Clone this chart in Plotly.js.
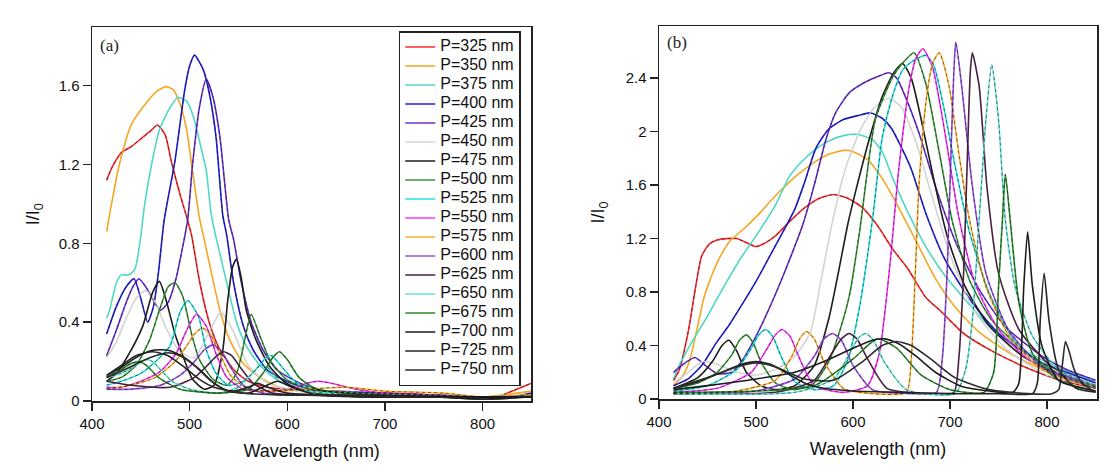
<!DOCTYPE html>
<html>
<head>
<meta charset="utf-8">
<script src="https://cdn.plot.ly/plotly-3.0.1.min.js"></script>
<style>html,body{margin:0;padding:0;background:#fff;}#chart{width:1118px;height:476px;}</style>
</head>
<body>
<div id="chart"></div>
<script>
// ---------- legend labels ----------
const periods = ['P=325 nm','P=350 nm','P=375 nm','P=400 nm','P=425 nm','P=450 nm','P=475 nm','P=500 nm','P=525 nm','P=550 nm','P=575 nm','P=600 nm','P=625 nm','P=650 nm','P=675 nm','P=700 nm','P=725 nm','P=750 nm'];

// ---------- panel (a) data : wavelength (nm) and I/I0 ----------
const a325_wl = [415,420,430,440,450,460,467,475,481,490,496,502,510,520,530,545,560,580,600,650,700,750,800,815,830,850];
const a325_I  = [1.12,1.18,1.26,1.29,1.33,1.37,1.40,1.35,1.22,1.05,0.95,0.84,0.61,0.40,0.27,0.16,0.10,0.07,0.06,0.05,0.04,0.03,0.02,0.02,0.05,0.09];
const a350_wl = [415,420,428,440,452,466,476,483,490,497,502,510,514,521,531,541,555,572,592,620,650,700,750,800,850];
const a350_I  = [0.86,1.00,1.20,1.40,1.49,1.57,1.595,1.58,1.51,1.375,1.20,0.93,0.84,0.68,0.46,0.31,0.19,0.12,0.07,0.05,0.04,0.04,0.03,0.02,0.05];
const a375_wl = [415,418,425,430,438,444,449,454,461,469,480,488,497,504,510,517,522,527,538,548,558,572,589,606,640,700,750,800,850];
const a375_I  = [0.42,0.46,0.60,0.64,0.64,0.67,0.80,1.00,1.20,1.375,1.49,1.54,1.52,1.44,1.32,1.17,0.95,0.83,0.60,0.40,0.28,0.18,0.11,0.07,0.05,0.04,0.03,0.02,0.03];
const a400_wl = [415,425,435,443,450,457,463,468,474,485,495,500,505,514,521,527,534,538,545,555,565,579,599,623,660,700,750,800,830,850];
const a400_I  = [0.34,0.48,0.58,0.62,0.52,0.40,0.48,0.65,0.92,1.22,1.58,1.70,1.755,1.68,1.54,1.34,0.94,0.84,0.60,0.38,0.26,0.16,0.10,0.06,0.04,0.04,0.03,0.02,0.02,0.04];
const a425_wl = [415,425,435,442,448,455,462,470,478,486,492,498,503,510,517,524,531,540,545,553,563,575,589,613,640,700,750,800,850];
const a425_I  = [0.23,0.36,0.50,0.58,0.62,0.58,0.52,0.46,0.50,0.62,0.76,0.92,1.20,1.49,1.633,1.54,1.34,0.92,0.82,0.60,0.40,0.26,0.16,0.09,0.05,0.04,0.03,0.02,0.03];
const a450_wl = [415,425,435,445,455,465,475,490,505,520,532,545,560,580,610,650,700,800,850];
const a450_I  = [0.22,0.30,0.42,0.52,0.56,0.50,0.38,0.25,0.22,0.35,0.45,0.35,0.18,0.09,0.05,0.04,0.03,0.02,0.03];
const a475_wl = [415,425,438,452,462,469,476,485,493,503,515,525,534,539,544,548,553,558,568,582,599,620,650,700,750,800,850];
const a475_I  = [0.10,0.14,0.24,0.38,0.55,0.607,0.51,0.34,0.23,0.11,0.06,0.08,0.26,0.51,0.68,0.72,0.62,0.46,0.31,0.175,0.09,0.05,0.03,0.02,0.02,0.01,0.02];
const a500_wl = [415,430,445,459,469,478,485,493,502,510,524,538,548,553,558,563,572,582,599,623,660,720,800,850];
const a500_I  = [0.10,0.12,0.18,0.31,0.46,0.58,0.60,0.53,0.34,0.21,0.11,0.08,0.14,0.23,0.35,0.44,0.33,0.21,0.11,0.06,0.04,0.03,0.02,0.02];
const a525_wl = [415,430,450,465,480,490,498,509,517,527,540,555,570,578,584,595,610,640,700,800,850];
const a525_I  = [0.08,0.10,0.14,0.20,0.28,0.45,0.51,0.43,0.26,0.14,0.08,0.10,0.17,0.22,0.23,0.17,0.09,0.05,0.03,0.02,0.02];
const a550_wl = [415,430,450,470,486,497,507,517,527,538,555,580,605,620,632,645,670,700,750,800,850];
const a550_I  = [0.07,0.07,0.10,0.15,0.24,0.36,0.44,0.38,0.24,0.12,0.06,0.05,0.06,0.09,0.10,0.09,0.06,0.04,0.03,0.02,0.02];
const a575_wl = [415,440,465,485,497,505,513,521,530,542,560,590,620,660,700,760,800,850];
const a575_I  = [0.06,0.08,0.12,0.20,0.28,0.34,0.37,0.34,0.25,0.13,0.06,0.05,0.06,0.07,0.05,0.04,0.02,0.03];
const a600_wl = [415,440,470,490,505,515,524,533,542,555,575,600,640,700,800,850];
const a600_I  = [0.06,0.06,0.08,0.13,0.20,0.26,0.285,0.25,0.17,0.08,0.04,0.03,0.03,0.03,0.02,0.02];
const a625_wl = [415,440,480,505,520,528,535,543,552,565,585,620,700,800,850];
const a625_I  = [0.10,0.08,0.07,0.12,0.19,0.23,0.25,0.23,0.17,0.09,0.04,0.03,0.02,0.02,0.02];
const a650_wl = [415,430,445,455,462,470,482,500,530,550,562,572,580,592,610,640,700,800,850];
const a650_I  = [0.12,0.14,0.18,0.21,0.20,0.16,0.10,0.06,0.04,0.07,0.13,0.18,0.17,0.10,0.06,0.04,0.03,0.02,0.02];
const a675_wl = [415,430,440,448,456,468,490,530,560,575,585,592,600,612,630,660,700,800,850];
const a675_I  = [0.12,0.16,0.19,0.20,0.18,0.12,0.06,0.04,0.06,0.14,0.22,0.25,0.21,0.12,0.06,0.04,0.03,0.02,0.02];
const a700_wl = [415,430,445,460,470,480,495,510,525,540,560,575,590,605,630,680,750,800,850];
const a700_I  = [0.13,0.17,0.22,0.255,0.26,0.255,0.22,0.16,0.09,0.05,0.04,0.07,0.10,0.07,0.03,0.02,0.02,0.01,0.02];
const a725_wl = [415,430,445,462,478,495,510,525,545,560,570,580,600,650,750,850];
const a725_I  = [0.13,0.18,0.23,0.25,0.23,0.17,0.11,0.07,0.05,0.07,0.09,0.07,0.04,0.03,0.02,0.02];
const a750_wl = [415,425,438,450,465,478,490,505,520,535,555,600,650,750,850];
const a750_I  = [0.12,0.14,0.17,0.20,0.23,0.245,0.23,0.18,0.11,0.06,0.04,0.03,0.03,0.02,0.02];

// ---------- panel (b) data ----------
const b325_wl = [415,421,430,438,444,452,460,470,480,490,500,510,520,535,550,565,580,595,610,625,641,656,667,675,690,714,743,777,814,850];
const b325_I  = [0.14,0.22,0.50,0.85,1.07,1.16,1.19,1.20,1.20,1.17,1.14,1.17,1.22,1.33,1.43,1.50,1.53,1.50,1.43,1.30,1.12,0.98,0.85,0.76,0.66,0.49,0.36,0.24,0.14,0.08];
const b350_wl = [415,425,432,440,446,452,462,473,490,505,520,540,560,575,590,600,615,630,645,665,685,705,730,760,790,820,850];
const b350_I  = [0.10,0.18,0.30,0.55,0.75,0.88,1.05,1.18,1.29,1.40,1.52,1.66,1.77,1.83,1.86,1.85,1.79,1.65,1.46,1.18,0.90,0.69,0.50,0.35,0.24,0.16,0.10];
const b375_wl = [415,420,435,450,459,470,483,500,520,534,545,560,575,590,604,620,630,641,655,675,695,710,740,775,810,850];
const b375_I  = [0.15,0.24,0.44,0.62,0.74,0.88,1.04,1.22,1.45,1.66,1.76,1.86,1.93,1.97,1.98,1.94,1.85,1.65,1.42,1.14,0.92,0.79,0.55,0.37,0.24,0.13];
const b400_wl = [415,430,445,459,472,485,500,515,530,540,550,562,575,590,605,618,630,640,650,660,675,695,723,753,795,820,850];
const b400_I  = [0.10,0.15,0.26,0.42,0.55,0.70,0.88,1.08,1.28,1.42,1.62,1.88,2.02,2.09,2.12,2.14,2.10,2.02,1.88,1.72,1.39,1.04,0.72,0.47,0.27,0.20,0.12];
const b425_wl = [415,425,437,448,460,475,486,500,510,521,535,548,560,572,582,596,610,625,637,645,654,668,685,706,730,757,795,820,850];
const b425_I  = [0.20,0.26,0.31,0.25,0.19,0.20,0.29,0.47,0.62,0.80,1.05,1.30,1.60,1.94,2.14,2.29,2.36,2.41,2.44,2.40,2.26,1.99,1.59,1.17,0.82,0.54,0.32,0.22,0.14];
const b450_wl = [415,430,445,460,480,500,520,540,556,566,578,592,608,622,637,650,665,680,700,725,760,800,850];
const b450_I  = [0.12,0.20,0.28,0.26,0.20,0.18,0.22,0.32,0.50,0.85,1.30,1.72,2.02,2.18,2.25,2.18,1.92,1.55,1.08,0.66,0.36,0.18,0.09];
const b475_wl = [415,440,455,465,472,480,490,505,520,540,560,575,585,595,605,617,630,642,651,660,670,683,697,715,740,775,812,850];
const b475_I  = [0.08,0.16,0.28,0.40,0.44,0.36,0.20,0.10,0.07,0.10,0.25,0.60,0.95,1.32,1.62,1.95,2.26,2.44,2.51,2.40,2.10,1.65,1.22,0.85,0.55,0.32,0.19,0.10];
const b500_wl = [415,440,460,475,483,490,497,505,520,540,560,575,588,597,607,623,641,652,663,675,689,702,720,743,778,812,850];
const b500_I  = [0.08,0.12,0.20,0.33,0.44,0.48,0.42,0.28,0.12,0.07,0.12,0.28,0.55,0.80,1.265,2.09,2.41,2.52,2.59,2.36,1.84,1.34,0.89,0.59,0.35,0.19,0.09];
const b525_wl = [415,450,480,495,503,510,517,527,540,560,580,595,607,620,630,640,651,662,675,683,693,705,720,740,765,800,850];
const b525_I  = [0.06,0.10,0.22,0.38,0.48,0.52,0.47,0.30,0.13,0.07,0.10,0.30,0.70,1.34,1.95,2.25,2.46,2.53,2.57,2.50,2.20,1.75,1.25,0.80,0.45,0.22,0.08];
const b550_wl = [415,460,495,510,520,527,535,545,560,590,615,627,638,647,658,665,672,682,695,709,726,750,780,810,850];
const b550_I  = [0.05,0.08,0.20,0.36,0.48,0.52,0.47,0.30,0.10,0.05,0.10,0.34,1.00,1.71,2.34,2.55,2.62,2.48,1.98,1.36,0.86,0.52,0.30,0.18,0.08];
const b575_wl = [415,480,520,537,545,552,560,570,590,620,655,660,664,668,675,682,689,699,709,720,737,761,795,850];
const b575_I  = [0.04,0.06,0.14,0.32,0.45,0.505,0.45,0.28,0.08,0.04,0.05,0.30,0.90,1.60,2.21,2.51,2.59,2.34,1.84,1.34,0.84,0.47,0.22,0.08];
const b600_wl = [415,500,540,560,570,579,588,600,620,660,686,692,697,701,704,706,712,723,737,760,795,850];
const b600_I  = [0.04,0.06,0.15,0.32,0.45,0.49,0.44,0.25,0.07,0.04,0.05,0.30,0.95,1.84,2.46,2.67,2.34,1.59,0.94,0.52,0.24,0.10];
const b625_wl = [415,520,560,578,588,596,604,615,635,680,704,709,714,718,721,723,730,738,750,771,805,850];
const b625_I  = [0.04,0.05,0.14,0.34,0.45,0.49,0.45,0.30,0.08,0.04,0.05,0.30,0.95,1.84,2.46,2.59,2.34,1.59,0.94,0.52,0.24,0.10];
const b650_wl = [415,540,580,598,606,613,621,632,655,705,716,723,730,737,743,750,757,767,785,812,850];
const b650_I  = [0.04,0.05,0.15,0.36,0.46,0.49,0.44,0.28,0.07,0.04,0.22,0.59,1.34,2.09,2.50,2.09,1.34,0.84,0.47,0.22,0.10];
const b675_wl = [415,560,600,625,645,670,700,735,745,750,754,757,762,771,785,812,850];
const b675_I  = [0.05,0.10,0.30,0.45,0.38,0.18,0.07,0.05,0.20,0.84,1.34,1.68,1.34,0.72,0.34,0.14,0.06];
const b700_wl = [415,450,500,540,570,600,620,633,648,665,685,710,740,765,771,776,780,785,795,812,850];
const b700_I  = [0.07,0.10,0.15,0.20,0.28,0.38,0.44,0.45,0.41,0.32,0.20,0.10,0.06,0.05,0.12,0.84,1.25,0.84,0.39,0.14,0.06];
const b725_wl = [415,440,465,485,500,515,530,550,570,600,650,700,750,785,790,793,797,802,812,830,850];
const b725_I  = [0.08,0.13,0.20,0.26,0.28,0.26,0.20,0.12,0.08,0.06,0.05,0.04,0.04,0.04,0.12,0.59,0.94,0.59,0.22,0.08,0.05];
const b750_wl = [415,450,480,500,520,550,580,610,630,645,660,680,705,740,780,805,812,816,819,823,828,836,850];
const b750_I  = [0.08,0.16,0.24,0.27,0.24,0.15,0.14,0.28,0.40,0.43,0.40,0.30,0.16,0.07,0.04,0.04,0.07,0.27,0.43,0.35,0.22,0.12,0.05];

// ---------- assemble ----------
const panelA = [[a325_wl,a325_I],[a350_wl,a350_I],[a375_wl,a375_I],[a400_wl,a400_I],[a425_wl,a425_I],[a450_wl,a450_I],[a475_wl,a475_I],[a500_wl,a500_I],[a525_wl,a525_I],[a550_wl,a550_I],[a575_wl,a575_I],[a600_wl,a600_I],[a625_wl,a625_I],[a650_wl,a650_I],[a675_wl,a675_I],[a700_wl,a700_I],[a725_wl,a725_I],[a750_wl,a750_I]];
const panelB = [[b325_wl,b325_I],[b350_wl,b350_I],[b375_wl,b375_I],[b400_wl,b400_I],[b425_wl,b425_I],[b450_wl,b450_I],[b475_wl,b475_I],[b500_wl,b500_I],[b525_wl,b525_I],[b550_wl,b550_I],[b575_wl,b575_I],[b600_wl,b600_I],[b625_wl,b625_I],[b650_wl,b650_I],[b675_wl,b675_I],[b700_wl,b700_I],[b725_wl,b725_I],[b750_wl,b750_I]];

// styles
const colors = ['#ff2a2a','#f5a623','#4fd8c4','#2020d8','#6a30d0','#d4d4d4','#1c1c1c','#3a963a','#22e2e2','#ff36ff','#ffb232','#9a4ee4','#4a2042','#66e4d4','#2c8c2c','#1c1c1c','#242424','#2c2c2c'];
const overlay = [true,false,false,true,true,false,false,true,true,true,true,true,false,true,true,false,false,false];

const traces = [];
function addPanel(data, xa, ya, legend) {
  data.forEach((s, i) => {
    traces.push({
      x: s[0], y: s[1], type: 'scatter', mode: 'lines',
      name: '<span style="font-size:16px">' + periods[i] + '</span>',
      xaxis: xa, yaxis: ya, showlegend: legend, hoverinfo: 'skip',
      line: {color: colors[i], width: 1.6, shape: 'spline', smoothing: 0.6}
    });
  });
  data.forEach((s, i) => {
    if (!overlay[i]) return;
    traces.push({
      x: s[0], y: s[1], type: 'scatter', mode: 'lines', showlegend: false,
      xaxis: xa, yaxis: ya, hoverinfo: 'skip',
      line: {color: 'rgba(20,20,20,0.55)', width: 1, dash: '3px,3px', shape: 'spline', smoothing: 0.6}
    });
  });
}
addPanel(panelA, 'x', 'y', true);
addPanel(panelB, 'x2', 'y2', false);

const tickFont = {family: 'Liberation Sans, Arial, sans-serif', size: 15, color: '#111'};
const titleFont = {family: 'Liberation Sans, Arial, sans-serif', size: 18, color: '#111'};
const axBase = {
  showline: true, linecolor: '#222', linewidth: 1.5, mirror: true,
  ticks: 'outside', ticklen: 8, tickwidth: 1.5, tickcolor: '#222',
  showgrid: false, zeroline: false, tickfont: tickFont
};

const layout = {
  width: 1118, height: 476,
  margin: {l: 92.3, r: 20.7, t: 26, b: 74.7, pad: 0},
  paper_bgcolor: '#fff', plot_bgcolor: '#fff',
  font: {family: 'Liberation Sans, Arial, sans-serif', color: '#111'},
  xaxis: Object.assign({}, axBase, {domain: [0, 0.4372], range: [400, 850], tick0: 0, dtick: 100, anchor: 'y',
    title: {text: 'Wavelength (nm)', font: titleFont, standoff: 14}}),
  yaxis: Object.assign({}, axBase, {domain: [0, 0.9965], range: [0, 1.896], tick0: 0, dtick: 0.4, anchor: 'x',
    title: {text: 'I/I<sub>0</sub>', font: titleFont, standoff: 14}}),
  xaxis2: Object.assign({}, axBase, {domain: [0.5642, 1], range: [400, 851.5], tick0: 0, dtick: 100, anchor: 'y2',
    title: {text: 'Wavelength (nm)', font: titleFont, standoff: 14}}),
  yaxis2: Object.assign({}, axBase, {domain: [0.0053, 1], range: [0, 2.79], tick0: 0, dtick: 0.4, anchor: 'x2',
    title: {text: 'I/I<sub>0</sub>', font: titleFont, standoff: 16}}),
  legend: {x: 0.3052, y: 0.9866, xanchor: 'left', yanchor: 'top', bgcolor: '#fff',
    bordercolor: '#222', borderwidth: 1.5, font: {family: 'Liberation Sans, Arial, sans-serif', size: 10.85, color: '#111'},
    itemwidth: 30, tracegroupgap: 0},
  annotations: [
    {text: '(a)', xref: 'paper', yref: 'paper', x: 0.0057, y: 0.949, xanchor: 'left', yanchor: 'middle', showarrow: false,
      font: {family: 'Liberation Serif, Times New Roman, serif', size: 17, color: '#222'}},
    {text: '(b)', xref: 'paper', yref: 'paper', x: 0.5699, y: 0.957, xanchor: 'left', yanchor: 'middle', showarrow: false,
      font: {family: 'Liberation Serif, Times New Roman, serif', size: 17, color: '#222'}}
  ]
};

Plotly.newPlot('chart', traces, layout, {staticPlot: true, displayModeBar: false});
</script>
</body>
</html>
